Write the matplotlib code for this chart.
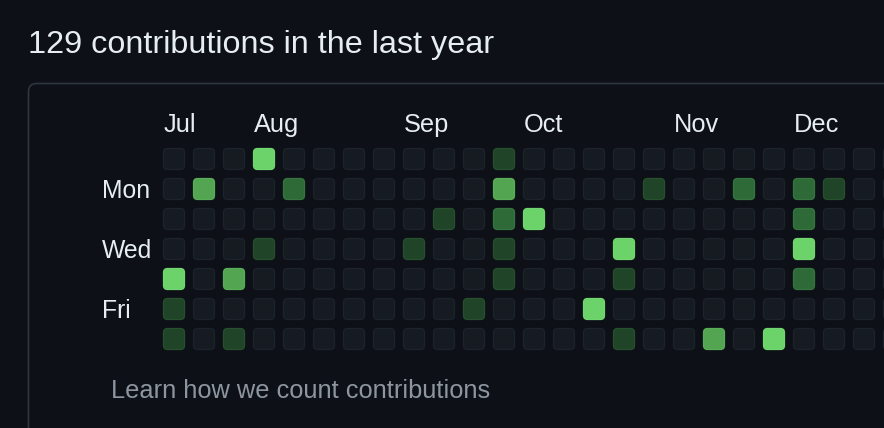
import matplotlib
matplotlib.use("Agg")
import matplotlib.pyplot as plt
from matplotlib.patches import FancyBboxPatch

# --- data --------------------------------------------------------------------
title = "129 contributions in the last year"
footer = "Learn how we count contributions"

months = ["Jul", "Aug", "Sep", "Oct", "Nov", "Dec"]
month_week = [0, 3, 8, 12, 17, 21]          # week column where each month label sits

day_labels = ["Mon", "Wed", "Fri"]
day_rows = [1, 3, 5]

# contribution level (0-4) per weekday row (Sun..Sat), one value per week column
levels = [
    [0, 0, 0, 4, 0, 0, 0, 0, 0, 0, 0, 1, 0, 0, 0, 0, 0, 0, 0, 0, 0, 0, 0, 0, 0],
    [0, 3, 0, 0, 2, 0, 0, 0, 0, 0, 0, 3, 0, 0, 0, 0, 1, 0, 0, 2, 0, 2, 1, 0, 0],
    [0, 0, 0, 0, 0, 0, 0, 0, 0, 1, 0, 2, 4, 0, 0, 0, 0, 0, 0, 0, 0, 2, 0, 0, 0],
    [0, 0, 0, 1, 0, 0, 0, 0, 1, 0, 0, 1, 0, 0, 0, 4, 0, 0, 0, 0, 0, 4, 0, 0, 0],
    [4, 0, 3, 0, 0, 0, 0, 0, 0, 0, 0, 1, 0, 0, 0, 1, 0, 0, 0, 0, 0, 2, 0, 0, 0],
    [1, 0, 0, 0, 0, 0, 0, 0, 0, 0, 1, 0, 0, 0, 4, 0, 0, 0, 0, 0, 0, 0, 0, 0, 0],
    [1, 0, 1, 0, 0, 0, 0, 0, 0, 0, 0, 0, 0, 0, 0, 1, 0, 0, 3, 0, 4, 0, 0, 0, 0],
]

level_colors = ["#161b22", "#1f4428", "#2e6a38", "#53a552", "#6cd36a"]
level_edges = ["#1d232b", "#27502f", "#357540", "#5aad58", "#72d770"]

BG = "#0d1117"
TEXT = "#e6edf3"
MUTED = "#8d96a0"
BORDER = "#30363d"

# --- layout (pixels) -----------------------------------------------------------
W, H = 884, 428
X0, Y0 = 163, 148      # top-left of first cell
STEP, CELL = 30, 22

fig = plt.figure(figsize=(W / 100, H / 100), dpi=100, facecolor=BG)
ax = fig.add_axes([0, 0, 1, 1])
ax.set_xlim(0, W)
ax.set_ylim(H, 0)
ax.axis("off")
ax.set_facecolor(BG)

font = ["Liberation Sans", "DejaVu Sans"]

# card border
ax.add_patch(FancyBboxPatch((28.5, 83.5), 900, 400,
                            boxstyle="round,pad=0,rounding_size=8",
                            fc=BG, ec=BORDER, lw=1.2))

ax.text(28, 53, title, color=TEXT, fontsize=23.3, family=font, va="baseline")

for m, wk in zip(months, month_week):
    ax.text(X0 + 1 + STEP * wk, 132, m, color=TEXT, fontsize=18.3,
            family=font, va="baseline")

for d, r in zip(day_labels, day_rows):
    ax.text(102, Y0 + STEP * r + 20, d, color=TEXT, fontsize=17.8,
            family=font, va="baseline")

for r, row in enumerate(levels):
    for c, lv in enumerate(row):
        ax.add_patch(FancyBboxPatch((X0 + STEP * c + 0.5, Y0 + STEP * r + 0.5),
                                    CELL - 1, CELL - 1,
                                    boxstyle="round,pad=0,rounding_size=4",
                                    fc=level_colors[lv], ec=level_edges[lv],
                                    lw=0.9))

ax.text(111, 398, footer, color=MUTED, fontsize=18.3, family=font,
        va="baseline")

fig.savefig("out.png", dpi=100, facecolor=BG)
